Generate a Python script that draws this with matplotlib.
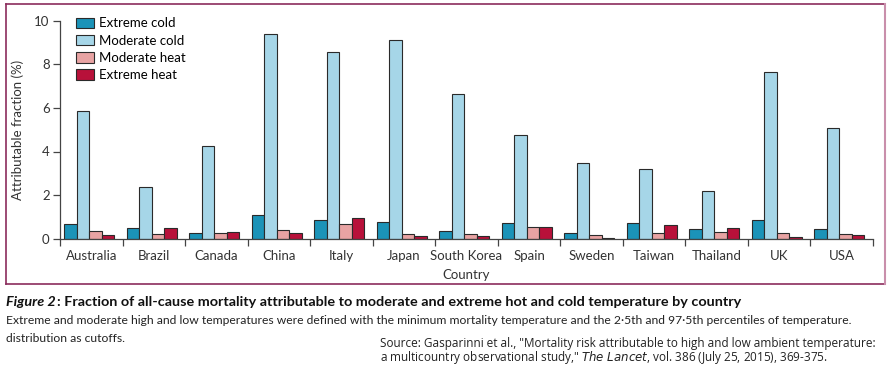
import numpy as np
import matplotlib.pyplot as plt
from matplotlib.lines import Line2D

# datos
paises = ["Australia", "Brazil", "Canada", "China", "Italy", "Japan", "South Korea",
          "Spain", "Sweden", "Taiwan", "Thailand", "UK", "USA"]
frio_extremo = [0.67, 0.50, 0.26, 1.07, 0.86, 0.78, 0.35, 0.72, 0.28, 0.72, 0.44, 0.86, 0.46]
frio_moderado = [5.86, 2.35, 4.25, 9.37, 8.55, 9.10, 6.62, 4.77, 3.46, 3.21, 2.19, 7.66, 5.09]
calor_moderado = [0.34, 0.23, 0.26, 0.41, 0.67, 0.20, 0.20, 0.52, 0.15, 0.24, 0.29, 0.24, 0.21]
calor_extremo = [0.17, 0.47, 0.29, 0.26, 0.96, 0.14, 0.11, 0.55, 0.03, 0.61, 0.49, 0.08, 0.15]
series = ["Extreme cold", "Moderate cold", "Moderate heat", "Extreme heat"]
colores = ["#1b93b8", "#a6d6e8", "#e8a3a3", "#b8113a"]

plt.rcParams['font.family'] = ['Lato', 'DejaVu Sans']

fig = plt.figure(figsize=(8.92, 3.76), dpi=100)
ax = fig.add_axes([60/892, 1-238.7/376, (873-60)/892, (238.7-20.7)/376])

x = np.arange(len(paises))
ancho = 0.2
datos = [frio_extremo, frio_moderado, calor_moderado, calor_extremo]
for k, (vals, c, nom) in enumerate(zip(datos, colores, series)):
    ax.bar(x - 0.336 + k*ancho, vals, ancho, color=c, edgecolor="#2a2a2a",
           linewidth=0.8, label=nom)

ax.set_xlim(-0.5, len(paises) - 0.5)
ax.set_ylim(0, 10)
ax.set_yticks([0, 2, 4, 6, 8, 10])
ax.set_xticks(x)
ax.set_xticklabels(paises)
ax.set_xticks(np.arange(-0.5, len(paises)), minor=True)
ax.tick_params(axis="x", which="major", length=0, labelsize=9.5, pad=8, colors="#333333")
ax.tick_params(axis="x", which="minor", length=5, width=0.9, color="#444444")
ax.tick_params(axis="y", length=5, width=0.9, pad=2.5, labelsize=9.5, color="#444444", labelcolor="#333333")
for s in ["top", "right"]:
    ax.spines[s].set_visible(False)
for s in ["left", "bottom"]:
    ax.spines[s].set_color("#444444")
    ax.spines[s].set_linewidth(0.9)
ax.set_ylabel("Attributable fraction (%)", fontsize=9.5, color="#333333", labelpad=7)
ax.set_xlabel("Country", fontsize=9.5, color="#333333", labelpad=5)

ax.legend(loc="upper left", bbox_to_anchor=(0.012, 1.045), frameon=False, fontsize=9.5,
          handlelength=1.3, handleheight=0.85, handletextpad=0.4, labelspacing=0.4,
          borderpad=0)

# marco
fig.add_artist(Line2D([6/892, 885/892], [1-3.5/376, 1-3.5/376], color="#8b2c5c", lw=1.2))
fig.add_artist(Line2D([6/892, 6/892], [1-3.5/376, 1-284/376], color="#8b2c5c", lw=1.2))
fig.add_artist(Line2D([6/892, 885/892], [1-284/376, 1-284/376], color="#8b2c5c", lw=1.2))
fig.add_artist(Line2D([885/892, 885/892], [1-3.5/376, 1-284/376], color="#c98fab", lw=1.5))

# textos del pie, ajustando el tamano al ancho del original
r = fig.canvas.get_renderer()
def ajustar(t, ancho_px):
    w = t.get_window_extent(r).width
    t.set_fontsize(t.get_fontsize() * ancho_px / w)

t1 = fig.text(6/892, 1-302/376, "Figure 2", fontsize=9.5, fontweight="bold",
              style="italic", va="center", color="#111111")
t2 = fig.text(6/892, 1-302/376, ": Fraction of all-cause mortality attributable to moderate and extreme hot and cold temperature by country",
              fontsize=9.5, fontweight="bold", va="center", color="#111111")
t3 = fig.text(6/892, 1-320/376, "Extreme and moderate high and low temperatures were defined with the minimum mortality temperature and the 2\u00b75th and 97\u00b75th percentiles of temperature.",
              fontsize=9.5, va="center", color="#222222")
t4 = fig.text(6/892, 1-338/376, "distribution as cutoffs.", fontsize=9.5, va="center", color="#222222")
ajustar(t3, 852)
t4.set_fontsize(t3.get_fontsize())
# ancho total de la linea en negrita ~ 739 px
w1 = t1.get_window_extent(r).width
w2 = t2.get_window_extent(r).width
f = 739 / (w1 + w2)
t1.set_fontsize(t1.get_fontsize() * f)
t2.set_fontsize(t2.get_fontsize() * f)
w1 = t1.get_window_extent(r).width
t2.set_x((6 + w1 + 1) / 892)

s1 = fig.text(380/892, 1-344/376, "Source: Gasparinni et al., \"Mortality risk attributable to high and low ambient temperature:",
              fontsize=8, va="center", family="Open Sans", color="#222222")
s2 = fig.text(380/892, 1-358/376, "a multicountry observational study,\" $\\it{The\\ Lancet}$, vol. 386 (July 25, 2015), 369-375.",
              fontsize=8, va="center", family="Open Sans", color="#222222")
ajustar(s1, 498)
s2.set_fontsize(s1.get_fontsize())

fig.savefig("out.png", dpi=100)
